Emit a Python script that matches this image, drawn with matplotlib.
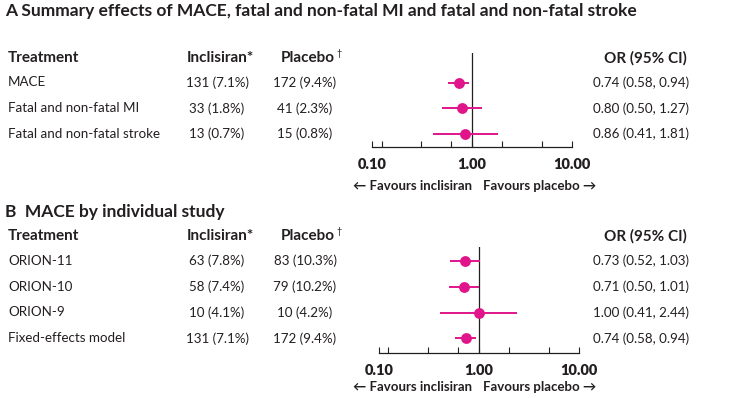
import matplotlib
matplotlib.use("Agg")
import matplotlib.pyplot as plt
from matplotlib.transforms import blended_transform_factory
from matplotlib.ticker import FixedLocator, NullFormatter

plt.rcParams['font.family'] = ['Lato', 'DejaVu Sans']

# ---- data ----
labels_a = ["MACE", "Fatal and non-fatal MI", "Fatal and non-fatal stroke"]
incl_a = ["131 (7.1%)", "33 (1.8%)", "13 (0.7%)"]
plac_a = ["172 (9.4%)", "41 (2.3%)", "15 (0.8%)"]
or_a = [0.74, 0.80, 0.86]
lo_a = [0.58, 0.50, 0.41]
hi_a = [0.94, 1.27, 1.81]

labels_b = ["ORION-11", "ORION-10", "ORION-9", "Fixed-effects model"]
incl_b = ["63 (7.8%)", "58 (7.4%)", "10 (4.1%)", "131 (7.1%)"]
plac_b = ["83 (10.3%)", "79 (10.2%)", "10 (4.2%)", "172 (9.4%)"]
or_b = [0.73, 0.71, 1.00, 0.74]
lo_b = [0.52, 0.50, 0.41, 0.58]
hi_b = [1.03, 1.01, 2.44, 0.94]

major_ticks = [0.1, 1, 10]
tick_labels = ["0.10", "1.00", "10.00"]
minor_ticks = [0.125, 0.31, 0.62, 2, 5]

W, H = 740, 398
fig = plt.figure(figsize=(W / 100, H / 100), dpi=100)
TXT = "#231f20"
MAG = "#e0158a"

def fx(px):
    return px / W

def fy(py):
    return 1 - py / H

def panel(x0, x1, ytop, ybot, row0, spacing, labels, incl, plac, ors, los, his,
          title, title_y, fav_y):
    n = len(labels)
    ax = fig.add_axes([fx(x0), fy(ybot), fx(x1 - x0), (ybot - ytop) / H])
    top = -(row0 - ytop) / spacing
    bot = (n - 1) + (ybot - (row0 + (n - 1) * spacing)) / spacing
    ax.set_xscale("log")
    ax.set_xlim(0.1, 10)
    ax.set_ylim(bot, top)
    ax.patch.set_alpha(0)
    for s in ["top", "left", "right"]:
        ax.spines[s].set_visible(False)
    ax.spines["bottom"].set_color(TXT)
    ax.spines["bottom"].set_linewidth(0.9)
    ax.set_yticks([])
    ax.xaxis.set_major_locator(FixedLocator(major_ticks))
    ax.set_xticklabels(tick_labels, fontsize=10.5, fontweight="heavy", color=TXT)
    ax.xaxis.set_minor_locator(FixedLocator(minor_ticks))
    ax.xaxis.set_minor_formatter(NullFormatter())
    ax.tick_params(axis="x", which="both", direction="in", length=4, width=0.8,
                   color=TXT, pad=8)
    ax.axvline(1, color=TXT, lw=0.9)
    ys = list(range(n))
    for y, o, l, h in zip(ys, ors, los, his):
        ax.plot([l, h], [y, y], color=MAG, lw=1.4, solid_capstyle="butt")
    ax.plot(ors, ys, "o", color=MAG, ms=7.8, mew=0)

    tr = blended_transform_factory(fig.transFigure, ax.transData)
    hdr_y = -(24.5 / spacing)
    fig.text(fx(8), hdr_y, "Treatment", transform=tr, fontsize=11, fontweight="bold",
             color=TXT, va="center", ha="left")
    fig.text(fx(187), hdr_y, "Inclisiran*", transform=tr, fontsize=11, fontweight="bold",
             color=TXT, va="center", ha="left")
    fig.text(fx(281), hdr_y, "Placebo", transform=tr, fontsize=11, fontweight="bold",
             color=TXT, va="center", ha="left")
    fig.text(fx(336), hdr_y - 0.17, "\u2020", transform=tr, fontsize=6.5,
             color=TXT, va="center", ha="left")
    fig.text(fx(687), hdr_y, "OR (95% CI)", transform=tr, fontsize=11, fontweight="bold",
             color=TXT, va="center", ha="right")
    for y, lab, a, b, o, l, h in zip(ys, labels, incl, plac, ors, los, his):
        fig.text(fx(8), y, lab, transform=tr, fontsize=9.6, color=TXT, va="center", ha="left")
        fig.text(fx(217), y, a, transform=tr, fontsize=9.6, color=TXT, va="center", ha="center")
        fig.text(fx(305), y, b, transform=tr, fontsize=9.6, color=TXT, va="center", ha="center")
        fig.text(fx(689), y, f"{o:.2f} ({l:.2f}, {h:.2f})", transform=tr, fontsize=9.6,
                 color=TXT, va="center", ha="right")
    fig.text(fx(5), fy(title_y), title, fontsize=12.5, fontweight="bold", color=TXT,
             va="center", ha="left")
    fig.text(fx(472), fy(fav_y), "\u2190 Favours inclisiran", fontsize=9.5,
             fontweight="bold", color=TXT, va="center", ha="right")
    fig.text(fx(483), fy(fav_y), "Favours placebo \u2192", fontsize=9.5,
             fontweight="bold", color=TXT, va="center", ha="left")
    return ax

panel(372, 572, 52.5, 147, 82.5, 25.8, labels_a, incl_a, plac_a, or_a, lo_a, hi_a,
      "A Summary effects of MACE, fatal and non-fatal MI and fatal and non-fatal stroke",
      11, 186)
panel(378.7, 578.7, 246.5, 352.7, 260.7, 25.9, labels_b, incl_b, plac_b, or_b, lo_b, hi_b,
      "B  MACE by individual study", 212, 387)

fig.savefig("out.png", dpi=100)
